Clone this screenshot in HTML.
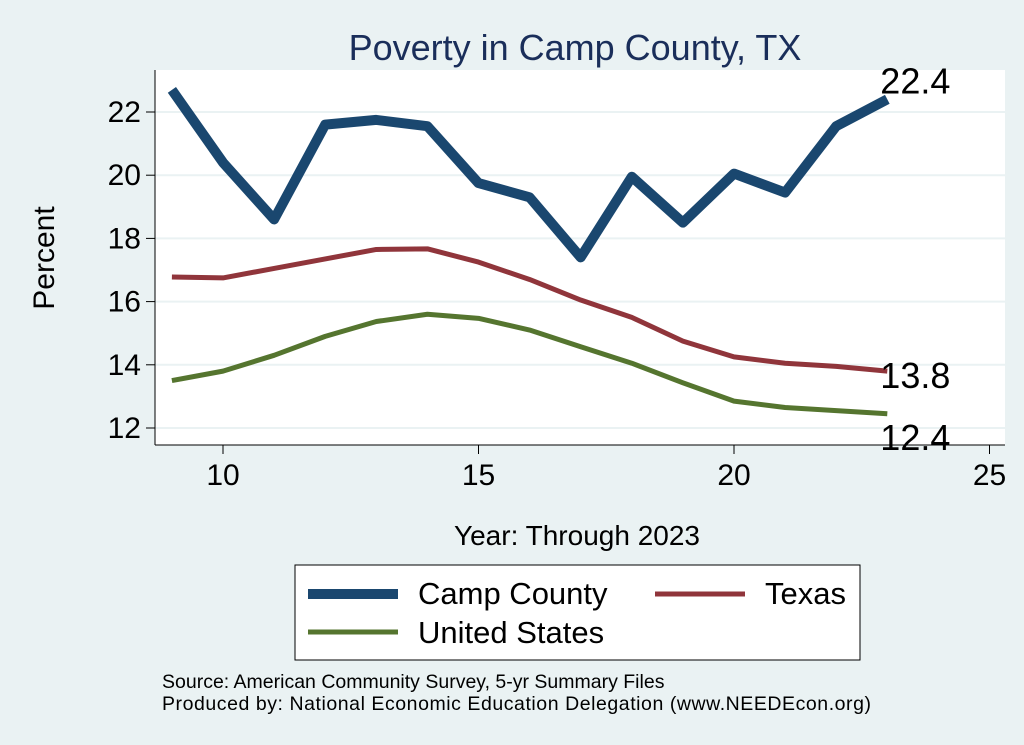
<!DOCTYPE html>
<html><head><meta charset="utf-8"><style>
body{margin:0;background:#eaf2f3;}
svg{display:block;font-family:"Liberation Sans",sans-serif;}
</style></head><body>
<svg id="chart" width="1024" height="745">
<rect x="0" y="0" width="1024" height="745" fill="#eaf2f3"/>
<text x="575" y="60" font-size="36" fill="#1a2e5a" text-anchor="middle">Poverty in Camp County, TX</text>
<rect x="155" y="70" width="850" height="375" fill="#ffffff"/>
<g id="grid"></g><g id="axes"></g><g id="series"></g>
<text x="54" y="258" font-size="30" text-anchor="middle" transform="rotate(-90 54 258)">Percent</text>
<text x="577" y="545" font-size="28" text-anchor="middle">Year: Through 2023</text>
<g>
<rect x="295" y="565" width="565" height="95" fill="#fff" stroke="#000" stroke-width="1"/>
<line x1="308" y1="594" x2="398" y2="594" stroke="#1a476f" stroke-width="10"/>
<text x="418" y="604" font-size="31">Camp County</text>
<line x1="655" y1="594" x2="745" y2="594" stroke="#90353b" stroke-width="5"/>
<text x="765" y="604" font-size="31">Texas</text>
<line x1="308" y1="632" x2="398" y2="632" stroke="#55752f" stroke-width="5"/>
<text x="418" y="643" font-size="31">United States</text>
</g>
<text x="162" y="688" font-size="19.5">Source: American Community Survey, 5-yr Summary Files</text>
<text x="162" y="710" font-size="19.5" textLength="709">Produced by: National Economic Education Delegation (www.NEEDEcon.org)</text>
</svg>
<script>
const years=[9,10,11,12,13,14,15,16,17,18,19,20,21,22,23];
const campValues=[22.7,20.4,18.6,21.6,21.75,21.55,19.75,19.3,17.4,19.95,18.5,20.05,19.45,21.55,22.4];
const texasValues=[16.78,16.75,17.05,17.35,17.65,17.67,17.25,16.7,16.05,15.5,14.75,14.25,14.05,13.95,13.8];
const usValues=[13.5,13.8,14.3,14.9,15.37,15.6,15.47,15.1,14.57,14.05,13.43,12.85,12.65,12.55,12.45];
const yTicks=[12,14,16,18,20,22];
const xTicks=[10,15,20,25];
const NS="http://www.w3.org/2000/svg";
const xs=v=>223+(v-10)*51.1;
const ys=v=>428-(v-12)*31.6;
const grid=document.getElementById('grid'),axes=document.getElementById('axes'),ser=document.getElementById('series');
function mk(tag,attrs,parent){const e=document.createElementNS(NS,tag);for(const k in attrs)e.setAttribute(k,attrs[k]);parent.appendChild(e);return e;}
yTicks.forEach(t=>{
 const g=mk('line',{x1:155,x2:1005,y1:ys(t),y2:ys(t),stroke:'#eaf2f3','stroke-width':2},grid);
 
 
 const tk=mk('line',{x1:146,x2:155,y1:ys(t),y2:ys(t),stroke:'#000','stroke-width':1},axes);
 
 
 const l=mk('text',{x:141,y:ys(t)+10,'font-size':30,'text-anchor':'end'},axes);l.textContent=t;
 
 
});
const ya=mk('line',{x1:155,x2:155,y1:70,y2:445,stroke:'#000'},axes);


const xa=mk('line',{x1:155,x2:1005,y1:445,y2:445,stroke:'#000'},axes);


xTicks.forEach(t=>{
 const tk=mk('line',{x1:xs(t),x2:xs(t),y1:445,y2:454,stroke:'#000'},axes);
 
 
 const l=mk('text',{x:xs(t),y:485,'font-size':30,'text-anchor':'middle'},axes);l.textContent=t;
 
 
});
function line(vals,color,w,name){
 const p=mk('polyline',{points:vals.map((v,i)=>xs(years[i])+','+ys(v)).join(' '),fill:'none',stroke:color,'stroke-width':w,'stroke-linejoin':'round'},ser);
 
 
}
line(usValues,'#55752f',5,'us-line');
line(texasValues,'#90353b',5,'texas-line');
line(campValues,'#1a476f',10,'camp-line');
function endLabel(vals,dy,name){
 const v=vals[vals.length-1];
 const t=mk('text',{x:xs(years[years.length-1])-7,y:ys(v)+dy,'font-size':36},ser);t.textContent=v.toFixed(1);
 
 
}
endLabel(campValues,-6,'camp-end-label');
endLabel(texasValues,17,'texas-end-label');
endLabel(usValues,36,'us-end-label');
</script>
</body></html>
